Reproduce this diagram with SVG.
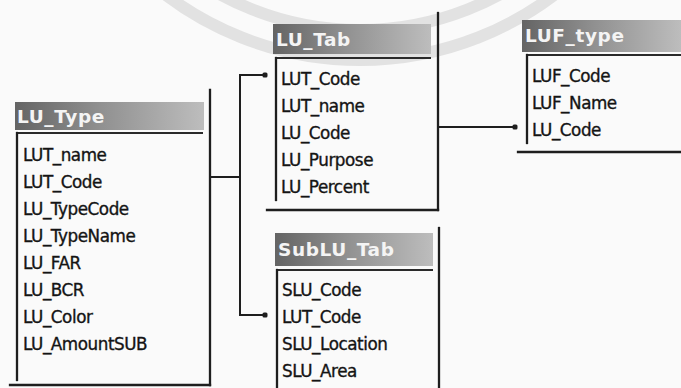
<svg xmlns="http://www.w3.org/2000/svg" width="681" height="388" viewBox="0 0 681 388">
  <defs>
    <linearGradient id="titleGrad" x1="0" y1="0" x2="1" y2="0">
      <stop offset="0" stop-color="#646464"/>
      <stop offset="0.45" stop-color="#909090"/>
      <stop offset="1" stop-color="#bdbdbd"/>
    </linearGradient>
    <marker id="endDot" viewBox="0 0 6 6" refX="3" refY="3" markerWidth="6" markerHeight="6" markerUnits="userSpaceOnUse">
      <rect x="0.5" y="0.5" width="5" height="5" rx="1.5" fill="#1e1e1e"/>
    </marker>
    <style>
      .bg { fill: #fafafa; }
      .ring { fill: none; stroke: #e2e2e2; stroke-width: 12; }
      .title { fill: url(#titleGrad); }
      .title-text { font-family: "DejaVu Sans", sans-serif; font-weight: bold; font-size: 18.5px; fill: #f4f4f4; letter-spacing: 0.6px; }
      .field { font-family: "DejaVu Sans", sans-serif; font-size: 16.8px; fill: #141414; stroke: #141414; stroke-width: 0.35; letter-spacing: -0.45px; }
      .frame { stroke: #1e1e1e; stroke-width: 2.3; fill: none; stroke-linecap: square; }
      .thin { stroke: #2a2a2a; stroke-width: 1.8; fill: none; }
      .conn { stroke: #1e1e1e; stroke-width: 2; fill: none; }
    </style>
  </defs>

  <rect class="bg" x="0" y="0" width="681" height="388"/>
  <!-- faint background rings -->
  <circle class="ring" cx="360" cy="-262" r="292"/>
  <circle class="ring" cx="360" cy="-262" r="322"/>

  <!-- LU_Type table -->
  <g id="lu-type">
    <rect class="title" x="15" y="102" width="189" height="28"/>
    <text class="title-text" x="17" y="123">LU_Type</text>
    <line class="thin" x1="17" y1="133" x2="203" y2="133"/>
    <line class="frame" x1="17" y1="133" x2="17" y2="380"/>
    <line class="frame" x1="210" y1="90" x2="210" y2="385"/>
    <line class="frame" x1="10" y1="385" x2="210" y2="385"/>
    <text class="field" x="23" y="161">LUT_name</text>
    <text class="field" x="23" y="188">LUT_Code</text>
    <text class="field" x="23" y="215">LU_TypeCode</text>
    <text class="field" x="23" y="242">LU_TypeName</text>
    <text class="field" x="23" y="269">LU_FAR</text>
    <text class="field" x="23" y="296">LU_BCR</text>
    <text class="field" x="23" y="323">LU_Color</text>
    <text class="field" x="23" y="350">LU_AmountSUB</text>
  </g>

  <!-- LU_Tab table -->
  <g id="lu-tab">
    <rect class="title" x="273" y="24" width="158" height="30"/>
    <text class="title-text" x="276" y="46">LU_Tab</text>
    <line class="thin" x1="276" y1="58" x2="431" y2="58"/>
    <line class="frame" x1="276" y1="58" x2="276" y2="200"/>
    <line class="frame" x1="438" y1="13" x2="438" y2="210"/>
    <line class="frame" x1="267" y1="210" x2="438" y2="210"/>
    <text class="field" x="281" y="85">LUT_Code</text>
    <text class="field" x="281" y="112">LUT_name</text>
    <text class="field" x="281" y="139">LU_Code</text>
    <text class="field" x="281" y="166">LU_Purpose</text>
    <text class="field" x="281" y="193">LU_Percent</text>
  </g>

  <!-- SubLU_Tab table -->
  <g id="sublu-tab">
    <rect class="title" x="275" y="233" width="158" height="33"/>
    <text class="title-text" x="278" y="256">SubLU_Tab</text>
    <line class="thin" x1="277" y1="270" x2="433" y2="270"/>
    <line class="frame" x1="277" y1="270" x2="277" y2="388"/>
    <line class="frame" x1="439" y1="228" x2="439" y2="388"/>
    <text class="field" x="282" y="296">SLU_Code</text>
    <text class="field" x="282" y="323">LUT_Code</text>
    <text class="field" x="282" y="350">SLU_Location</text>
    <text class="field" x="282" y="377">SLU_Area</text>
  </g>

  <!-- LUF_type table -->
  <g id="luf-type">
    <rect class="title" x="522" y="20" width="159" height="32"/>
    <text class="title-text" x="525" y="42">LUF_type</text>
    <line class="thin" x1="526" y1="55" x2="681" y2="55"/>
    <line class="frame" x1="527" y1="55" x2="527" y2="143"/>
    <line class="frame" x1="518" y1="152" x2="681" y2="152"/>
    <text class="field" x="532" y="82">LUF_Code</text>
    <text class="field" x="532" y="109">LUF_Name</text>
    <text class="field" x="532" y="136">LU_Code</text>
  </g>

  <!-- relationship connectors -->
  <g id="connectors">
    <polyline class="conn" points="211,177 240,177"/>
    <polyline class="conn" points="240,315 240,75 265,75" marker-end="url(#endDot)"/>
    <polyline class="conn" points="240,177 240,315 265,315" marker-end="url(#endDot)"/>
    <polyline class="conn" points="439,127 515,127" marker-end="url(#endDot)"/>
  </g>
</svg>
